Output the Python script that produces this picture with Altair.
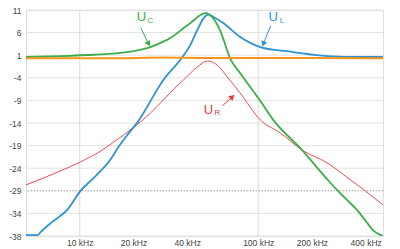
import altair as alt
import pandas as pd

# --- data (frequency in kHz, level in dB) ---
uc_f = [5, 7.8, 12, 16.9, 20, 24.9, 29.4, 32.2, 37.6, 41.7, 45.6, 48.5, 51.0, 55.5, 61.3, 69.8, 79.3, 102.6, 121.3, 176.2, 242.9, 276, 314, 357, 406, 439, 480, 499]
uc_v = [0.6, 0.8, 1.1, 1.5, 1.9, 2.8, 4.0, 4.8, 6.8, 8.1, 9.4, 10.1, 10.3, 9.3, 6.4, 0.2, -3.0, -9.1, -13.3, -20.0, -26.4, -28.8, -31.0, -33.2, -36.0, -37.7, -38.7, -39.0]

ul_f = [5, 5.8, 6.05, 6.9, 8.6, 10.1, 11.5, 13.1, 14.9, 16.3, 18.1, 21.1, 29.4, 37.6, 41.7, 45.6, 49.5, 52.5, 56.5, 63.7, 79.3, 102.6, 157, 243, 371, 499]
ul_v = [-38.8, -38.8, -38.1, -36.1, -33.0, -29.0, -26.8, -24.6, -22.0, -19.6, -17.1, -13.8, -4.5, 0.6, 3.3, 6.6, 9.2, 10.0, 9.4, 8.1, 5.0, 2.8, 1.7, 0.8, 0.6, 0.6]

ur_f = [5, 7.8, 10.1, 13.1, 16.3, 20.0, 24.9, 29.4, 34.0, 38.1, 45.6, 51.9, 59.0, 67.1, 79.3, 102.6, 132.8, 176.2, 242.9, 314, 406, 499]
ur_v = [-27.7, -24.6, -22.6, -20.2, -17.6, -15.0, -11.8, -8.9, -6.3, -4.5, -1.6, -0.3, -1.2, -3.8, -7.4, -13.3, -16.2, -20.0, -22.8, -26.0, -29.3, -32.1]

u_f = [5, 15, 30, 52, 100, 200, 500]
u_v = [0.3, 0.3, 0.5, 0.4, 0.4, 0.4, 0.3]

y_ticks = [11, 6, 1, -4, -9, -14, -19, -24, -29, -34, -39]
x_ticks = [10, 20, 40, 100, 200, 400]
x_grid = [10, 100]

# annotation labels: main letter, subscript, positions, arrows
ann_main = ["U", "U", "U"]
ann_sub = ["C", "L", "R"]
ann_color = ["#3cae4a", "#2f93d0", "#e6373c"]
ann_f = [22.2, 121.3, 52.6]
ann_v = [9.4, 9.4, -11.1]
ann_sub_f = [24.9, 136, 59.0]
ann_sub_v = [8.6, 8.6, -11.8]
arr_f1 = [22.0, 117.3, 63.0]
arr_v1 = [7.0, 7.5, -10.2]
arr_f2 = [24.3, 106.7, 71.6]
arr_v2 = [3.5, 3.5, -8.2]
arr_angle = [153, 201, 48]

GREEN, BLUE, RED, ORANGE = "#3cae4a", "#2f93d0", "#e6373c", "#f7941d"

xs = alt.Scale(type="log", domain=[5, 500], nice=False)
ys = alt.Scale(domain=[-39, 11], nice=False, zero=False)

ax_x = alt.Axis(values=x_ticks, labelExpr="datum.value + ' kHz'",
                grid=False, domain=False, ticks=False, labelFontSize=8.5,
                labelOverlap=False, labelFlush=False,
                labelColor="#444", labelPadding=2, title=None, labelFont="Liberation Sans")
ax_y = alt.Axis(values=y_ticks,
                labelExpr="datum.value == -39 ? '-38' : replace(format(datum.value, 'd'), '\u2212', '-')",
                grid=False, domain=False, ticks=False, labelFontSize=8.5,
                labelOverlap=False, labelFlush=False,
                labelColor="#444", labelPadding=5, title=None, labelFont="Liberation Sans")

X = lambda field: alt.X(field, scale=xs, axis=ax_x, title=None)
Y = lambda field: alt.Y(field, scale=ys, axis=ax_y, title=None)


def series(f, v, name):
    return pd.DataFrame({"f": f, "v": v, "s": name})

d_uc = series(uc_f, uc_v, "UC")
d_ul = series(ul_f, ul_v, "UL")
d_ur = series(ur_f, ur_v, "UR")
d_u = series(u_f, u_v, "U")

hgrid = pd.DataFrame({"v": [t for t in y_ticks if t != -29]})
dotted = pd.DataFrame({"v": [-29]})
vgrid = pd.DataFrame({"f": x_grid})

hg = alt.Chart(hgrid).mark_rule(color="#e2e2e2", strokeWidth=1).encode(y=Y("v:Q"))
dg = alt.Chart(dotted).mark_rule(color="#9a9a9a", strokeWidth=1, strokeDash=[1.5, 1.5]).encode(y=Y("v:Q"))
vg = alt.Chart(vgrid).mark_rule(color="#dcdcdc", strokeWidth=1).encode(x=X("f:Q"))

def line(df, color, w):
    return alt.Chart(df).mark_line(color=color, strokeWidth=w, clip=True, interpolate="monotone").encode(
        x=X("f:Q"), y=Y("v:Q"))

l_ur = line(d_ur, RED, 0.9)
l_ul = line(d_ul, BLUE, 1.8)
l_uc = line(d_uc, GREEN, 1.8)
l_u = line(d_u, ORANGE, 2.0)

ann = pd.DataFrame({"m": ann_main, "s": ann_sub, "c": ann_color, "f": ann_f, "v": ann_v,
                    "sf": ann_sub_f, "sv": ann_sub_v, "f1": arr_f1, "v1": arr_v1,
                    "f2": arr_f2, "v2": arr_v2, "a": arr_angle})

t_main = alt.Chart(ann).mark_text(fontSize=13, font="Liberation Sans").encode(
    x=X("f:Q"), y=Y("v:Q"), text="m:N", color=alt.Color("c:N", scale=None))
t_sub = alt.Chart(ann).mark_text(fontSize=8, font="Liberation Sans").encode(
    x=X("sf:Q"), y=Y("sv:Q"), text="s:N", color=alt.Color("c:N", scale=None))
a_line = alt.Chart(ann).mark_rule(strokeWidth=1).encode(
    x=X("f1:Q"), y=Y("v1:Q"), x2="f2:Q", y2="v2:Q",
    color=alt.Color("c:N", scale=None))
a_head = alt.Chart(ann).mark_point(shape="triangle-up", filled=True, size=40, opacity=1).encode(
    x=X("f2:Q"), y=Y("v2:Q"), angle=alt.Angle("a:Q", scale=None),
    color=alt.Color("c:N", scale=None))

chart = alt.layer(hg, vg, dg, l_ur, l_ul, l_uc, l_u, a_line, a_head, t_main, t_sub).properties(
    width=357, height=226,
    autosize=alt.AutoSizeParams(type="none"),
    padding={"left": 26, "top": 10, "right": 17, "bottom": 13},
).configure_view(stroke="#c8c8c8", strokeWidth=1).configure(background="white")

chart.save("out.html", embed_options={"renderer": "svg", "actions": False})
